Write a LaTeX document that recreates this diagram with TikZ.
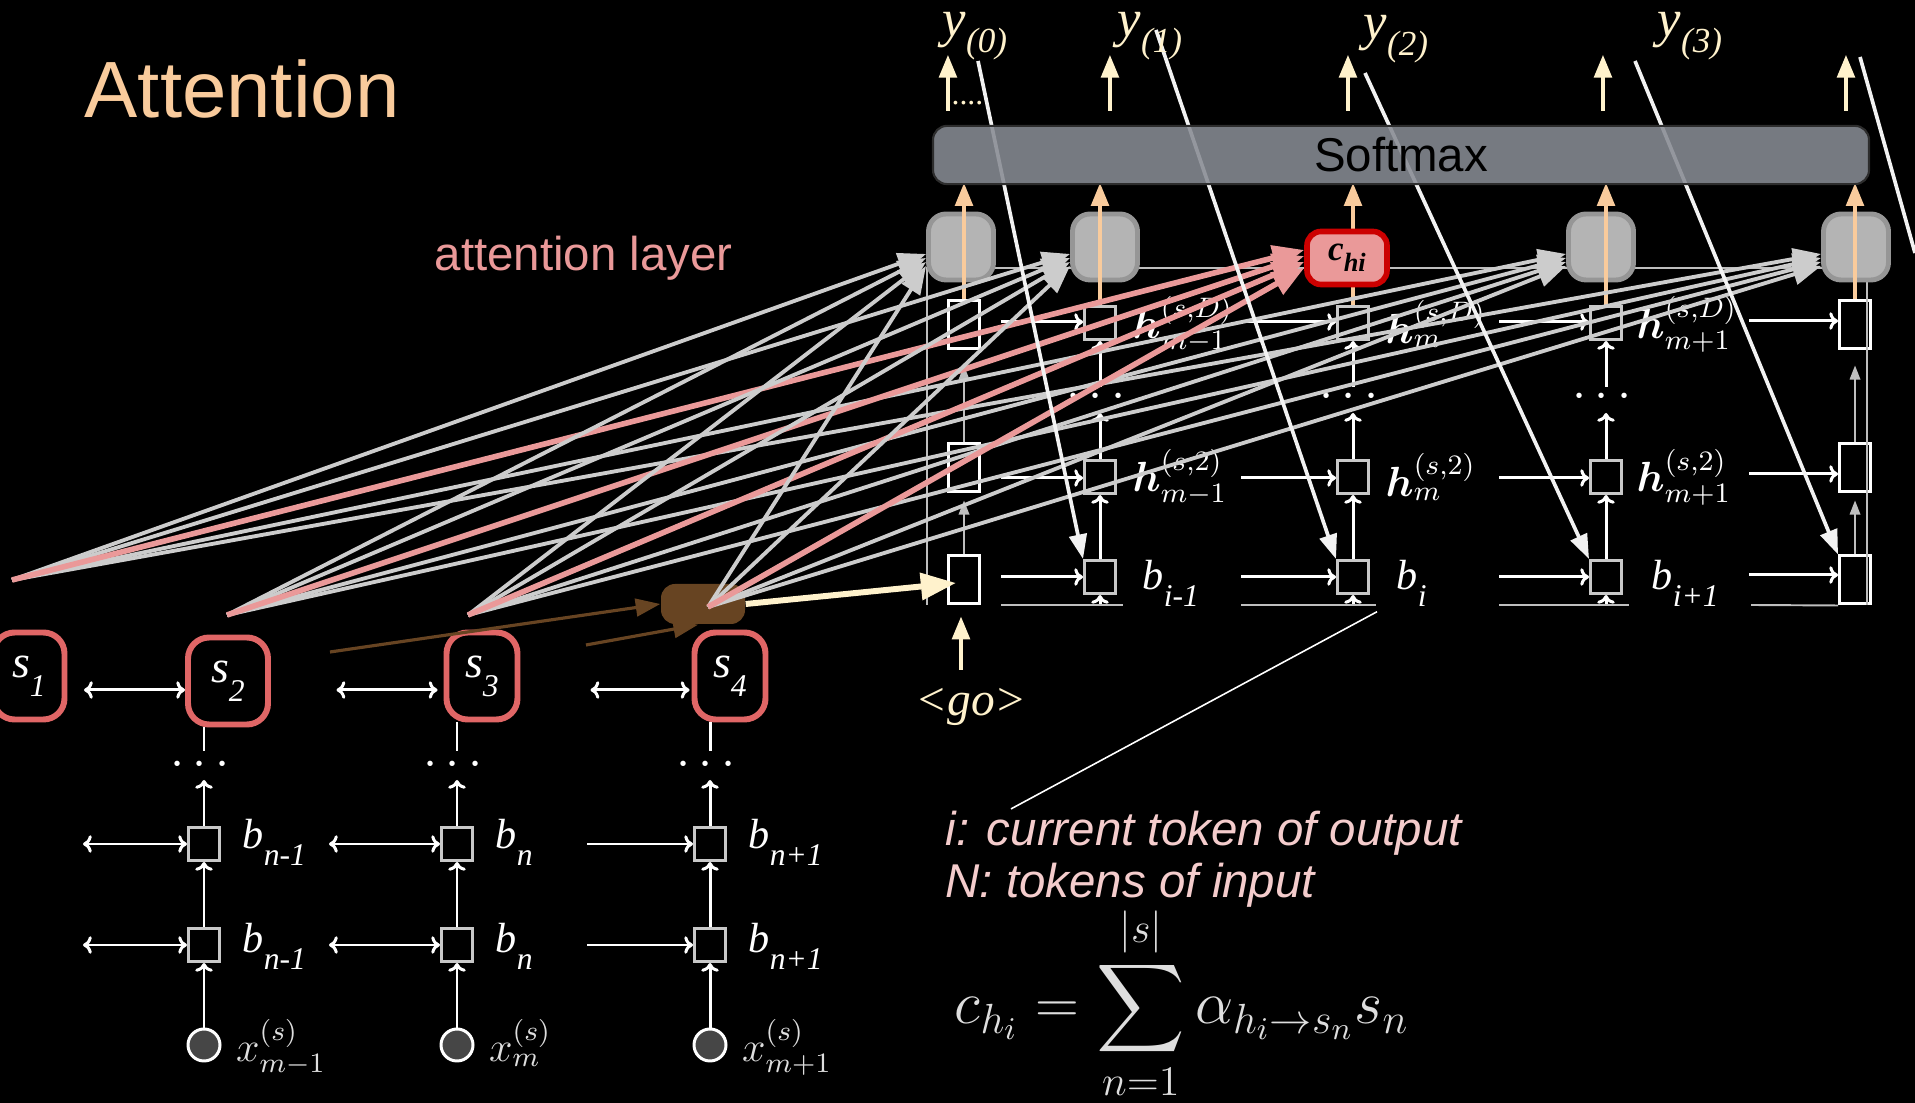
\documentclass[tikz,border=0pt]{standalone}
\usepackage{amsmath,amssymb,bm}
\usepackage[no-math]{fontspec}
\setmainfont{Liberation Sans}
\newfontfamily\tnr{Liberation Serif}
\usetikzlibrary{arrows.meta,calc,positioning}

\definecolor{titleor}{RGB}{249,203,156}
\definecolor{attpink}{RGB}{234,153,153}
\definecolor{notepink}{RGB}{244,204,204}
\definecolor{cream}{RGB}{255,242,204}
\definecolor{peach}{RGB}{249,203,156}
\definecolor{smgray}{RGB}{135,139,147}
\definecolor{smborder}{RGB}{45,45,45}
\definecolor{cellgray}{RGB}{180,180,180}
\definecolor{cellbd}{RGB}{150,150,150}
\definecolor{fangray}{RGB}{204,204,204}
\definecolor{sred}{RGB}{224,102,102}
\definecolor{chired}{RGB}{204,0,0}
\definecolor{brownc}{RGB}{103,68,34}
\definecolor{boxgray}{RGB}{200,200,200}
\definecolor{framegray}{RGB}{190,190,190}
\definecolor{eqgray}{RGB}{222,222,222}
\definecolor{xgray}{RGB}{70,70,70}

% label with lowered subscript: main, sub, size, subsize, drop
\newcommand{\tlab}[5]{\fontsize{#3}{#3}\selectfont #1\raisebox{-#5}{\fontsize{#4}{#4}\selectfont #2}}

\tikzset{
  headtxt/.style={text=titleor, font=\fontsize{22.7}{26}\selectfont, inner sep=0pt, anchor=base west},
  attnlab/.style={text=attpink, font=\fontsize{13.5}{16}\selectfont, inner sep=0pt, anchor=base west},
  notetxt/.style={text=notepink, font=\itshape\fontsize{13.5}{16}\selectfont, inner sep=0pt, anchor=base west},
  eqtxt/.style={text=eqgray, font=\fontsize{17.5}{20}\selectfont, inner sep=0pt},
  smbar/.style={draw=smborder, line width=0.6pt, fill=smgray, fill opacity=0.88, text opacity=1,
    rounded corners=4pt, minimum width=93.6mm, minimum height=5.4mm, text=black,
    font=\fontsize{13.5}{16}\selectfont},
  topcell/.style={draw=cellbd, line width=1.4pt, fill=cellgray, rounded corners=5pt,
    minimum width=6.5mm, minimum height=6.6mm, inner sep=0pt},
  chibox/.style={draw=chired, line width=1.6pt, fill=attpink, rounded corners=4pt,
    minimum width=8mm, minimum height=5.3mm, inner sep=0pt, text=black, font=\tnr\bfseries\itshape},
  cell/.style={draw=boxgray, line width=0.85pt, fill=black, minimum width=3.1mm,
    minimum height=3.3mm, inner sep=0pt},
  tallcell/.style={draw=white, line width=0.85pt, fill=black, minimum width=3.1mm,
    minimum height=4.8mm, inner sep=0pt},
  sbox/.style={draw=sred, line width=1.7pt, fill=black, rounded corners=6pt,
    minimum width=7.1mm, minimum height=8.7mm, inner sep=0pt, text=white, font=\tnr\itshape},
  xcirc/.style={circle, draw=white, line width=0.85pt, fill=xgray, minimum size=3.2mm, inner sep=0pt},
  brownbox/.style={fill=brownc, rounded corners=4pt, minimum width=8.4mm, minimum height=4mm, inner sep=0pt},
  ylab/.style={text=cream, font=\tnr\itshape, anchor=base west, inner sep=0pt},
  blab/.style={text=white, font=\tnr\itshape, anchor=base west, inner sep=0pt},
  hlab/.style={text=white, font=\fontsize{12}{14}\selectfont, anchor=west, inner sep=0pt},
  xlab/.style={text=eqgray, font=\fontsize{12}{14}\selectfont, anchor=base west, inner sep=0pt},
  golab/.style={text=cream, font=\tnr\itshape\fontsize{13.5}{15}\selectfont, inner sep=0pt},
  vdots/.style={text=white, font=\fontsize{15}{15}\selectfont, inner sep=0pt},
  warr/.style={draw=white, line width=0.85pt, -{To[length=2.5pt,width=5pt]}},
  dwarr/.style={draw=white, line width=0.85pt, {To[length=2.5pt,width=5pt]}-{To[length=2.5pt,width=5pt]}},
  thinarr/.style={draw=framegray, line width=0.5pt, -{Triangle[length=4pt,width=3pt]}},
  framel/.style={draw=framegray, line width=0.55pt},
  eline/.style={draw=white, line width=0.85pt},
  fan/.style={draw=fangray, line width=1.1pt, -{Triangle[length=8pt,width=6pt]}},
  fanpink/.style={draw=attpink, line width=1.6pt, -{Triangle[length=9pt,width=7pt]}},
  peacharr/.style={draw=peach, line width=1pt, -{Triangle[length=6.5pt,width=5pt]}},
  creamarr/.style={draw=cream, line width=1.1pt, -{Triangle[length=6.5pt,width=5pt]}},
  creamthick/.style={draw=cream, line width=1.7pt, -{Triangle[length=10pt,width=7.5pt]}},
  brownarr/.style={draw=brownc, line width=0.9pt, -{Triangle[length=7pt,width=5pt]}},
  diagarr/.style={draw=white!95!black, line width=1.05pt, -{Triangle[length=7pt,width=5pt]}},
  diagline/.style={draw=white!95!black, line width=1.05pt},
  annot/.style={draw=white, line width=0.45pt}
}

\begin{document}
\begin{tikzpicture}[x=0.1mm,y=-0.1mm]
\useasboundingbox (0,0) rectangle (1915,1103);
\fill[black] (0,0) rectangle (1915,1103);

\node[headtxt] (ttl) at (84,118) {Attention};
\node[attnlab] (attl) at (434,271) {attention layer};

% decoder cells
\foreach \n/\x in {1/964,5/1855}{
  \node[tallcell] (dt\n) at (\x,325) {};
  \node[tallcell] (dm\n) at (\x,468) {};
  \node[tallcell] (db\n) at (\x,580) {};
  \draw[thinarr] (db\n.north) -- ++(0,-54);
  \draw[thinarr] (dm\n.north) -- ++(0,-77);
}
\foreach \n/\x/\g in {2/1100/82,3/1353/95,4/1606/90}{
  \node[cell] (dt\n) at (\x,323) {};
  \node[cell] (dm\n) at (\x,477) {};
  \node[cell] (db\n) at (\x,577) {};
  \draw[warr] (db\n.north) -- (dm\n.south);
  \draw[warr] (dm\n.north) -- ++(0,-46);
  \node[vdots] at ($(dm\n.north)+(0,-62)$) {$\cdots$};
  \draw[warr] ($(dt\n.south)+(0,46)$) -- (dt\n.south);
  \draw[warr] ($(db\n.south)+(0,11)$) -- (db\n.south);
  % rows
  \draw[warr] ($(dt\n.west)+(-\g,-1)$) -- ($(dt\n.west)+(0,-1)$);
  \draw[warr] ($(dm\n.west)+(-\g,1)$) -- ($(dm\n.west)+(0,1)$);
  \draw[warr] ($(db\n.west)+(-\g,0)$) -- (db\n.west);
  \draw[framel] ($(db\n.west)+(-\g,28)$) -- ($(db\n.east)+(6,28)$);
}
\draw[warr] ($(dt5.west |- dt4)+(-89,-2)$) -- ($(dt5.west |- dt4)+(0,-2)$);
\draw[warr] ($(dm5.west |- dm4)+(-89,-3)$) -- ($(dm5.west |- dm4)+(0,-3)$);
\draw[warr] ($(db5.west |- db4)+(-89,-2)$) -- ($(db5.west |- db4)+(0,-2)$);
\draw[framel] ($(db5.west |- db4)+(-87,28)$) -- (db5.south west);
\draw[framel] (927,605) -- (927,268) -- (1867,268) -- (1867,605);

% decoder labels
\node[hlab] (hd2) at ($(dt2.east)+(15,1)$) {$\bm{h}^{(s,D)}_{m-1}$};
\node[hlab] (hd3) at ($(dt3.east)+(15,1)$) {$\bm{h}^{(s,D)}_{m}$};
\node[hlab] (hd4) at ($(dt4.east)+(13,1)$) {$\bm{h}^{(s,D)}_{m+1}$};
\node[hlab] (hs2) at ($(dm2.east)+(15,0)$) {$\bm{h}^{(s,2)}_{m-1}$};
\node[hlab] (hs3) at ($(dm3.east)+(15,0)$) {$\bm{h}^{(s,2)}_{m}$};
\node[hlab] (hs4) at ($(dm4.east)+(13,0)$) {$\bm{h}^{(s,2)}_{m+1}$};
\node[blab] (bi2) at ($(db2.east)+(25,13)$) {\tlab{b}{i-1}{12pt}{9pt}{0.38em}};
\node[blab] (bi3) at ($(db3.east)+(26,13)$) {\tlab{b}{i}{12pt}{9pt}{0.38em}};
\node[blab] (bi4) at ($(db4.east)+(28,13)$) {\tlab{b}{i+1}{12pt}{9pt}{0.38em}};

% attention cells
\foreach \n/\x in {1/961,2/1105,4/1601,5/1856}
  \node[topcell] (g\n) at (\x,247) {};
\coordinate (smb) at (1401,183);
\foreach \n in {1,...,5}
  \draw[peacharr] (dt\n.north) -- (dt\n.north |- smb);
\node[chibox] (chi) at (1347,258) {\tlab{c}{hi}{10pt}{7.5pt}{0.3em}};

% encoder
\node[sbox] (s1) at (29,676) {\tlab{s}{1}{13pt}{9pt}{0.42em}};
\node[sbox, minimum width=8mm] (s2) at (228,681) {\tlab{s}{2}{13pt}{9pt}{0.42em}};
\node[sbox] (s3) at (482,676) {\tlab{s}{3}{13pt}{9pt}{0.42em}};
\node[sbox] (s4) at (730,676) {\tlab{s}{4}{13pt}{9pt}{0.42em}};
\draw[dwarr] ($(s2.west)+(-101,9)$) -- ($(s2.west)+(0,9)$);
\draw[dwarr] ($(s3.west)+(-107,14)$) -- ($(s3.west)+(-6,14)$);
\draw[dwarr] ($(s4.west)+(-101,14)$) -- ($(s4.west)+(-2,14)$);

\foreach \c/\x/\sb in {1/204/n-1,2/457/n,3/710/n+1}{
  \node[cell] (eu\c) at (\x,844) {};
  \node[cell] (el\c) at (\x,945) {};
  \node[xcirc] (xc\c) at (\x,1045) {};
  \draw[warr] (xc\c.north) -- (el\c.south);
  \draw[warr] (el\c.north) -- (eu\c.south);
  \draw[warr] (eu\c.north) -- ++(0,-46);
  \node[vdots] at ($(eu\c.north)+(0,-61)$) {$\cdots$};
  \node[blab] at ($(eu\c.east)+(21,5)$) {\tlab{b}{\sb}{12pt}{9pt}{0.38em}};
  \node[blab] at ($(el\c.east)+(21,8)$) {\tlab{b}{\sb}{12pt}{9pt}{0.38em}};
}
\draw[eline] (eu1 |- s2.south) -- ++(0,24);
\draw[eline] (eu2 |- s3.south) -- ++(0,29);
\draw[eline] (eu3 |- s4.south) -- ++(0,29);
\foreach \r in {u,l}{
  \draw[dwarr] ($(e\r1.west)+(-104,0)$) -- (e\r1.west);
  \draw[dwarr] ($(e\r2.west)+(-111,0)$) -- (e\r2.west);
  \draw[warr] ($(e\r3.west)+(-106,0)$) -- (e\r3.west);
}
\node[xlab] at ($(xc1.east)+(14,17)$) {$x^{(s)}_{m-1}$};
\node[xlab] at ($(xc2.east)+(14,17)$) {$x^{(s)}_{m}$};
\node[xlab] at ($(xc3.east)+(14,17)$) {$x^{(s)}_{m+1}$};

% brown merge box
\node[brownbox] (brown) at (703,604) {};
\coordinate (br1) at (330,652);
\coordinate (br2) at (586,645);
\draw[brownarr] (br1) -- (brown.west);
\draw[brownarr] (br2) -- ($(brown.south)+(-5,0)$);
\draw[creamthick] (brown.east) -- ($(db1.center)+(-8,3)$);

\node[golab] (go) at (971,707) {<go>};
\draw[creamarr] ($(go.north)+(-10,-18)$) -- ($(db1.south)+(-3,11)$);

% attention fan
\coordinate (f1) at (12,580);
\coordinate (f2) at (227,615);
\coordinate (f3) at (468,615);
\coordinate (f4) at (708,607);
\foreach \f [count=\k] in {f1,f2,f3,f4}{
  \foreach \t in {g1,g2,g4,g5}
    \draw[fan] (\f) -- ($(\t.west)+(0,{3+4*\k})$);
  \draw[fanpink] (\f) -- ($(chi.west)+(0,{6*\k-14})$);
}

% output links
\coordinate (w1) at (978,61);
\coordinate (w2) at (1156,30);
\coordinate (w3) at (1365,73);
\coordinate (w4) at (1635,61);
\coordinate (w5) at (1860,57);
\coordinate (w5e) at (1915,253);
\draw[diagarr] (w1) -- (db2.north west);
\draw[diagarr] (w2) -- (db3.north west);
\draw[diagarr] (w3) -- (db4.north west);
\draw[diagarr] (w4) -- (db5.north west);
\draw[diagline] (w5) -- (w5e);

% softmax and outputs
\node[smbar] (sm) at (1401,155) {Softmax};
\foreach \d in {16,178,416,671,914}
  \draw[creamarr] ($(sm.north west)+(\d,-14)$) -- ++(0,-56);
\node[ylab, font=\tnr\fontsize{9}{9}\selectfont] (dots) at ($(sm.north west)+(19,-20)$) {....};
\node[ylab] (y0) at (942,37) {\tlab{y}{(0)}{15pt}{10pt}{0.3em}};
\node[ylab] (y1) at (1117,37) {\tlab{y}{(1)}{15pt}{10pt}{0.3em}};
\node[ylab] (y2) at (1363,40) {\tlab{y}{(2)}{15pt}{10pt}{0.3em}};
\node[ylab] (y3) at (1657,37) {\tlab{y}{(3)}{15pt}{10pt}{0.3em}};

% notes
\node[notetxt] (n1) at (945,846) {i: current token of output};
\node[notetxt] (n2) at (945,898) {N: tokens of input};
\draw[annot] ($(bi3.south west)+(-19,5)$) -- ($(n1.north west)+(66,-2)$);
\node[eqtxt] (eq) at (1182,1003) {$\displaystyle c_{h_i}=\sum_{n=1}^{|s|}\alpha_{h_i\rightarrow s_n}s_n$};
\end{tikzpicture}
\end{document}
